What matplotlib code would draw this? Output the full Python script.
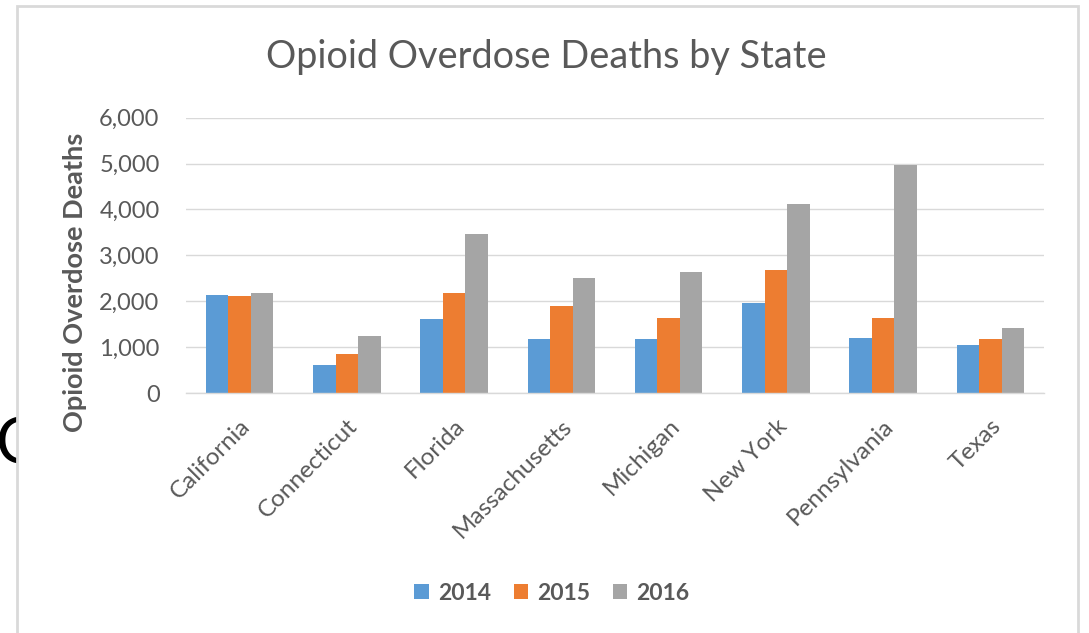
import matplotlib
matplotlib.use("Agg")
import matplotlib.pyplot as plt
from matplotlib.patches import Rectangle, Patch
from matplotlib.ticker import FuncFormatter
import numpy as np

states = ["California", "Connecticut", "Florida", "Massachusetts",
          "Michigan", "New York", "Pennsylvania", "Texas"]
years = ["2014", "2015", "2016"]
deaths_2014 = [2142, 603, 1605, 1170, 1170, 1954, 1205, 1039]
deaths_2015 = [2107, 856, 2172, 1888, 1641, 2673, 1641, 1170]
deaths_2016 = [2172, 1235, 3457, 2512, 2643, 4118, 4974, 1416]
colors = ["#5B9BD5", "#ED7D31", "#A5A5A5"]

FONT = "Lato"
TXT = "#595959"
W, H = 1089, 633

fig = plt.figure(figsize=(W / 100, H / 100), dpi=100)
fig.patch.set_facecolor("white")

# partial large "C" behind the chart frame
fig.text(-4 / W, 1 - 446 / H, "C", fontsize=46, family=FONT, color="black",
         ha="left", va="center", zorder=0)

# chart frame
frame = Rectangle((17 / W, -0.05), (1078 - 17) / W, (1 - 6 / H) + 0.05,
                  transform=fig.transFigure, facecolor="white",
                  edgecolor="#D9D9D9", lw=2, zorder=1)
fig.patches.append(frame)

ax = fig.add_axes([186 / W, 1 - 393 / H, (1044 - 186) / W, (393 - 117.7) / H])
ax.set_zorder(2)
ax.patch.set_alpha(0)

x = np.arange(len(states))
bw = 0.21
for i, (vals, c) in enumerate(zip([deaths_2014, deaths_2015, deaths_2016], colors)):
    ax.bar(x + (i - 1) * bw, vals, width=bw, color=c, zorder=3, label=years[i])

ax.set_xlim(-0.5, len(states) - 0.5)
ax.set_ylim(0, 6000)
ax.set_yticks(np.arange(0, 6001, 1000))
ax.yaxis.set_major_formatter(FuncFormatter(lambda v, p: f"{int(v):,}"))
ax.grid(axis="y", color="#D9D9D9", lw=1, zorder=0)
for s in ["top", "right", "left"]:
    ax.spines[s].set_visible(False)
ax.spines["bottom"].set_color("#D9D9D9")
ax.spines["bottom"].set_linewidth(1)
ax.spines["bottom"].set_zorder(4)
ax.tick_params(axis="both", length=0, colors=TXT)
ax.tick_params(axis="y", pad=19)
ax.set_xticks(x)
ax.set_xticklabels(states, rotation=45, ha="right", va="top",
                   rotation_mode="anchor", family=FONT, fontsize=17.5, color=TXT)
for lbl in ax.get_yticklabels():
    lbl.set_family(FONT)
    lbl.set_fontsize(17)
    lbl.set_color(TXT)
ax.tick_params(axis="x", pad=16)

ax.set_ylabel("Opioid Overdose Deaths", family=FONT, fontsize=19.5,
              fontweight="bold", color=TXT)
ax.yaxis.set_label_coords((87 - 186) / (1044 - 186), (393 - 282) / (393 - 117.7))

fig.text(546 / W, 1 - 57 / H, "Opioid Overdose Deaths by State", family=FONT,
         fontsize=27.3, color=TXT, ha="center", va="center", zorder=3)

handles = [Patch(facecolor=c, label=y) for c, y in zip(colors, years)]
leg = fig.legend(handles=handles, loc="center", bbox_to_anchor=(552 / W, 1 - 593 / H),
                 ncol=3, frameon=False, handlelength=0.62, handleheight=0.62,
                 handletextpad=0.4, columnspacing=1.0,
                 prop={"family": FONT, "size": 16.5, "weight": "bold"})
for t in leg.get_texts():
    t.set_color(TXT)
leg.set_zorder(3)

fig.savefig("out.png", dpi=100)
